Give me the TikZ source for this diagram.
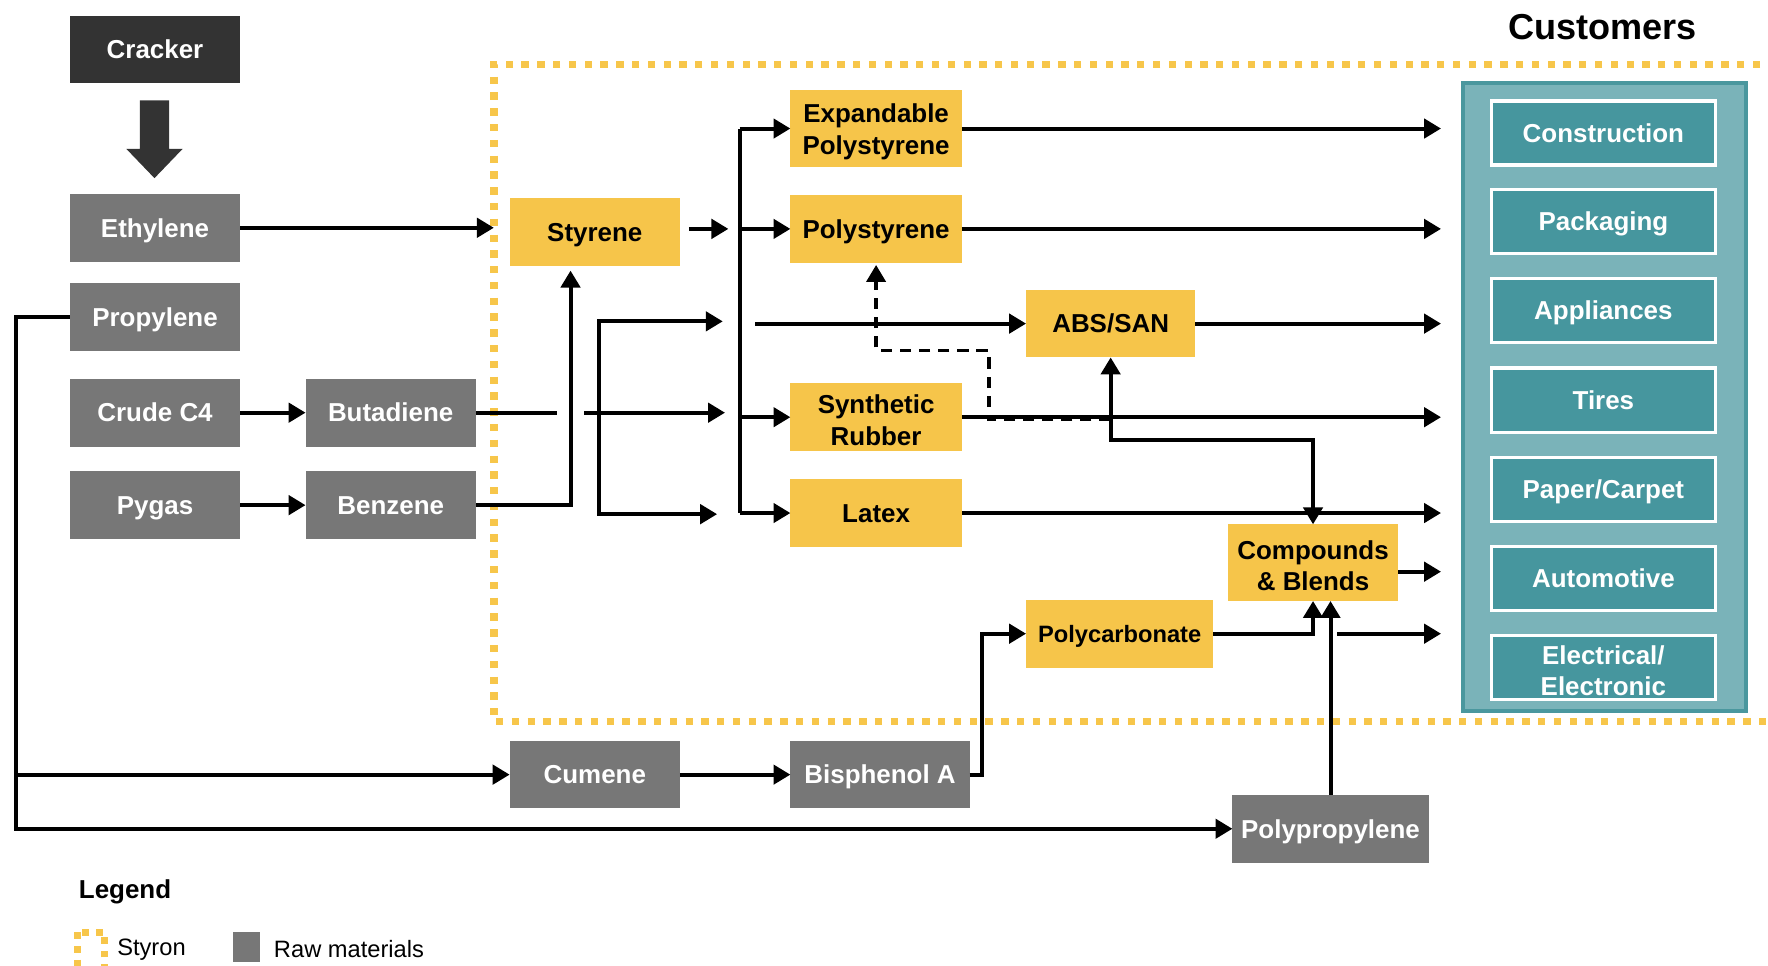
\documentclass[tikz,border=0pt]{standalone}
\usepackage{fontspec}
\setmainfont{Liberation Sans}
\usetikzlibrary{arrows.meta,calc}
\definecolor{gbox}{RGB}{119,119,119}
\definecolor{dbox}{RGB}{51,51,51}
\definecolor{ybox}{RGB}{246,197,74}
\definecolor{ydot}{RGB}{247,198,74}
\definecolor{tealout}{RGB}{122,179,185}
\definecolor{tealedge}{RGB}{74,151,158}
\definecolor{tealin}{RGB}{70,150,158}
\newcommand{\topstrut}{\rule{0pt}{22pt}}
\begin{document}
\begin{tikzpicture}[x=1pt,y=-1pt,
  every node/.style={inner sep=0pt, outer sep=0pt, align=center, font=\fontsize{23}{28}\selectfont\bfseries},
  oneline/.style={text height=17.5pt, text depth=1pt},
  raw/.style={fill=gbox, text=white, minimum width=151pt, minimum height=60pt},
  prod/.style={fill=ybox, text=black, minimum width=151pt, minimum height=60pt},
  cust/.style={fill=tealin, draw=white, line width=3pt, text=white, minimum width=199pt, minimum height=57pt},
  arr/.style={line width=3.5pt, -{Triangle[length=15pt,width=17pt]}},
  dblarr/.style={line width=3.5pt, {Triangle[length=15pt,width=17pt]}-{Triangle[length=15pt,width=17pt]}},
  ln/.style={line width=3.5pt},
  dashln/.style={line width=3pt, dash pattern=on 10pt off 7pt, -{Triangle[length=15pt,width=17pt]}},
  styronline/.style={draw=ydot, line width=6.5pt, dash pattern=on 6.5pt off 7.5pt},
]
\useasboundingbox (0,0) rectangle (1568,856);

% Styron border
\draw[styronline] (1575,57) -- (438,57) -- (438,640) -- (1575,640);

% title
\node[font=\fontsize{32}{36}\selectfont\bfseries] (custtitle) at (1421,24) {Customers};

% customers panel
\node[fill=tealout, draw=tealedge, line width=3pt, minimum width=251pt, minimum height=557pt] (custpanel) at (1423,352) {};
\node[cust, oneline] (construction) at (1422,118) {Construction};
\node[cust, oneline] (packaging) at (1422,196.5) {Packaging};
\node[cust, oneline] (appliances) at (1422,275.5) {Appliances};
\node[cust, oneline] (tires) at (1422,355) {Tires};
\node[cust, oneline] (paper) at (1422,434) {Paper/Carpet};
\node[cust, oneline] (automotive) at (1422,513) {Automotive};
\node[cust] (electrical) at (1422,592) {\topstrut Electrical/\\Electronic};

% raw materials
\node[raw, oneline, fill=dbox] (cracker) at (137.5,44) {Cracker};
\node[raw, oneline] (ethylene) at (137.5,202) {Ethylene};
\node[raw, oneline] (propylene) at (137.5,281) {Propylene};
\node[raw, oneline] (crude) at (137.5,366) {Crude C4};
\node[raw, oneline] (pygas) at (137.5,448) {Pygas};
\node[raw, oneline] (butadiene) at (346.5,366) {Butadiene};
\node[raw, oneline] (benzene) at (346.5,448) {Benzene};
\node[raw, oneline] (cumene) at (527.5,687) {Cumene};
\node[raw, oneline, minimum width=159pt] (bpa) at (780.5,687) {Bisphenol A};
\node[raw, oneline, minimum width=174pt] (pp) at (1180,735) {Polypropylene};

% products
\node[prod, oneline] (styrene) at (527.5,206) {Styrene};
\node[prod, minimum width=152pt, minimum height=69pt] (eps) at (777,114) {\topstrut Expandable\\Polystyrene};
\node[prod, oneline, minimum width=152pt] (ps) at (777,203) {Polystyrene};
\node[prod, oneline, minimum width=150pt] (abs) at (985,287) {ABS/SAN};
\node[prod, minimum width=152pt] (sr) at (777,370) {\topstrut Synthetic\\Rubber};
\node[prod, oneline, minimum width=152pt] (latex) at (777,455) {Latex};
\node[prod, minimum height=68pt] (comp) at (1164.5,499) {\topstrut Compounds\\\&~Blends};
\node[prod, minimum width=166pt, font=\fontsize{21}{26}\selectfont\bfseries, text height=16pt, text depth=1pt] (pc) at (993,562) {Polycarbonate};

% cracker arrow
\fill[dbox] (124,89) -- (150,89) -- (150,132) -- (162,132) -- (137,158) -- (112,132) -- (124,132) -- cycle;

% coordinates
\coordinate (ethend) at (438,202);
\coordinate (hopA) at (494,366);
\coordinate (hopB) at (518,366);
\coordinate (butjn) at (531,366);
\coordinate (butmid) at (643,366);
\coordinate (buttop) at (531,285);
\coordinate (buttopend) at (641,285);
\coordinate (butbot) at (531,456);
\coordinate (butbotend) at (636,456);
\coordinate (stya) at (611,203);
\coordinate (styb) at (646,203);
\coordinate (busx) at (656,0);
\coordinate (absstart) at (670,287);
\coordinate (absturn) at (985,390);
\coordinate (dashstart) at (985,372);
\coordinate (dashA) at (877,372);
\coordinate (dashB) at (877,311);
\coordinate (dashC) at (777,311);
\coordinate (custx) at (1278,0);
\coordinate (compout) at (1278,507);
\coordinate (pcout) at (1186,562);
\coordinate (propx) at (14,0);

% connectors
\draw[arr] (ethylene.east) -- (ethend);
\draw[arr] (crude) -- (butadiene);
\draw[arr] (pygas) -- (benzene);
\draw[arr] (benzene.east) -| ([xshift=-21.5pt,yshift=-4pt]styrene.south);
\draw[ln] (butadiene.east) -- (hopA);
\draw[arr] (hopB) -- (butmid);
\draw[arr] (butjn) -- (buttop) -- (buttopend);
\draw[arr] (butjn) -- (butbot) -- (butbotend);
\draw[arr] (stya) -- (styb);
\draw[ln] (busx |- eps) -- (busx |- latex);
\draw[arr] (busx |- eps) -- (eps);
\draw[arr] (busx |- ps) -- (ps);
\draw[arr] (busx |- sr) -- (sr);
\draw[arr] (busx |- latex) -- (latex);
\draw[arr] (absstart) -- (abs);

\draw[arr] (eps.east) -- (custx |- eps);
\draw[arr] (ps.east) -- (custx |- ps);
\draw[arr] (abs.east) -- (custx |- abs);
\draw[arr] (sr.east) -- (custx |- sr);
\draw[arr] (latex.east) -- (custx |- latex);
\draw[arr] (comp.east |- compout) -- (compout);
\draw[arr] (pcout) -- (custx |- pcout);

\draw[dblarr] (abs.south) -- (absturn) -| (comp.north);
\draw[dashln] (dashstart) -- (dashA) -- (dashB) -- (dashC) -- ([yshift=-2pt]ps.south);

\draw[arr] (pc.east) -| (comp.south);
\draw[arr] (pp.north) -- (pp.north |- comp.south);
\draw[arr] (bpa.east) -- ++(11,0) |- (pc.west);
\draw[arr] (cumene) -- (bpa);
\draw[arr] (propylene.west) -- (propx |- propylene) -- (propx |- pp) -- (pp.west);
\draw[arr] (propx |- cumene) -- (cumene.west);

% legend
\node[anchor=west] (legendtitle) at (70,791) {Legend};
\draw[draw=ydot, line width=6pt, dash pattern=on 6pt off 6pt] (69,827) rectangle (93,862);
\node[anchor=west, font=\fontsize{21}{24}\selectfont] (styronlbl) at (104,842) {Styron};
\fill[gbox] (207,827) rectangle (231,853);
\node[anchor=west, font=\fontsize{21}{24}\selectfont] (rawlbl) at (243,842) {Raw materials};
\end{tikzpicture}
\end{document}
